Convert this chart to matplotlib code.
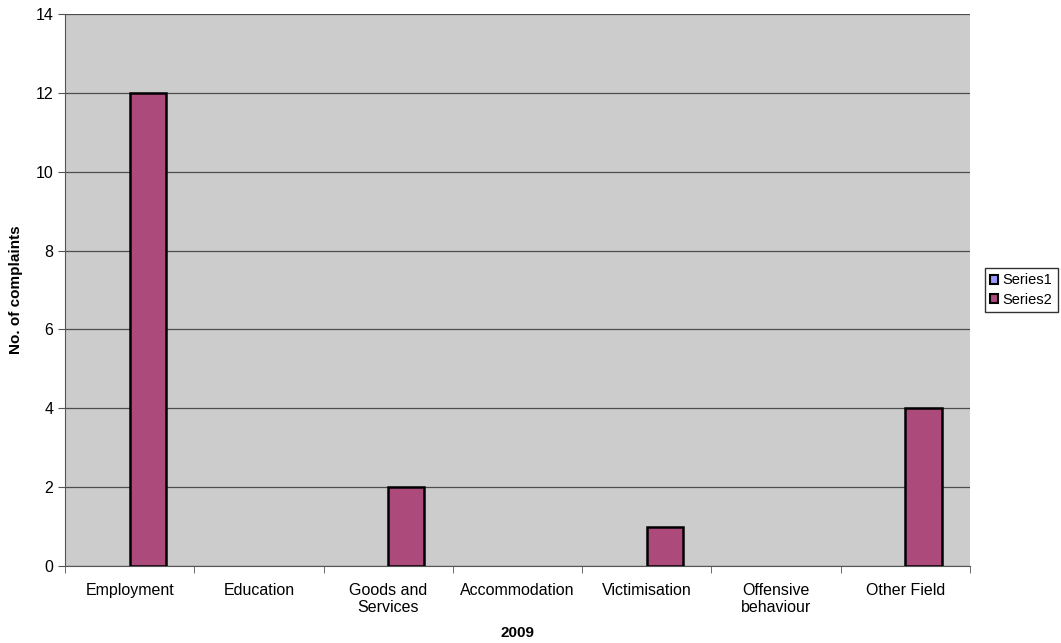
import matplotlib.pyplot as plt
import numpy as np
from matplotlib.patches import Patch

categories = ["Employment", "Education", "Goods and\nServices", "Accommodation",
              "Victimisation", "Offensive\nbehaviour", "Other Field"]
series1 = [0, 0, 0, 0, 0, 0, 0]
series2 = [12, 0, 2, 0, 1, 0, 4]

plt.rcParams['font.family'] = ['Liberation Sans', 'DejaVu Sans']

fig = plt.figure(figsize=(10.61, 6.43), dpi=100)
ax = fig.add_axes([0.0613, 0.1198, 0.8530, 0.8585])
ax.set_facecolor('#cccccc')

x = np.arange(len(categories))
w = 0.28
# zero-height bars draw no outline, as in the original
lw1 = [1.8 if v > 0 else 0 for v in series1]
lw2 = [1.8 if v > 0 else 0 for v in series2]
ax.bar(x - w / 2, series1, w, color='#9999ff', edgecolor='black', linewidth=lw1, zorder=3)
ax.bar(x + w / 2, series2, w, color='#ac4a7c', edgecolor='black', linewidth=lw2, zorder=3)

ax.set_xlim(-0.5, len(categories) - 0.5)
ax.set_ylim(0, 14)
ax.set_yticks(range(0, 15, 2))
ax.yaxis.grid(True, color='#4d4d4d', linewidth=0.9, zorder=0)
ax.set_axisbelow(True)

ax.set_xticks(x)
ax.set_xticklabels(categories, fontsize=11.5, linespacing=1.2)
ax.set_xticks(np.arange(-0.5, len(categories), 1), minor=True)
ax.tick_params(axis='x', which='major', length=0, pad=12)
ax.tick_params(axis='x', which='minor', length=5, direction='out', color='#555555')
ax.tick_params(axis='y', length=5, direction='out', labelsize=11.5, color='#555555')

for s in ['top', 'right']:
    ax.spines[s].set_visible(False)
ax.spines['left'].set_color('#555555')
ax.spines['bottom'].set_color('#555555')

ax.set_ylabel("No. of complaints", fontsize=11, fontweight='bold')
ax.set_xlabel("2009", fontsize=11, fontweight='bold')
ax.yaxis.set_label_coords(-0.046, 0.5)
ax.xaxis.set_label_coords(0.5, -0.108)

handles = [Patch(facecolor='#9999ff', edgecolor='black', linewidth=1.5, label='Series1'),
           Patch(facecolor='#ac4a7c', edgecolor='black', linewidth=1.5, label='Series2')]
fig.legend(handles=handles, loc='center left', bbox_to_anchor=(0.928, 0.549),
           frameon=True, fancybox=False, edgecolor='black', fontsize=10.5,
           handlelength=0.6, handleheight=0.6, handletextpad=0.3,
           borderpad=0.35, labelspacing=0.35, borderaxespad=0)

fig.savefig("out.png", dpi=100)
